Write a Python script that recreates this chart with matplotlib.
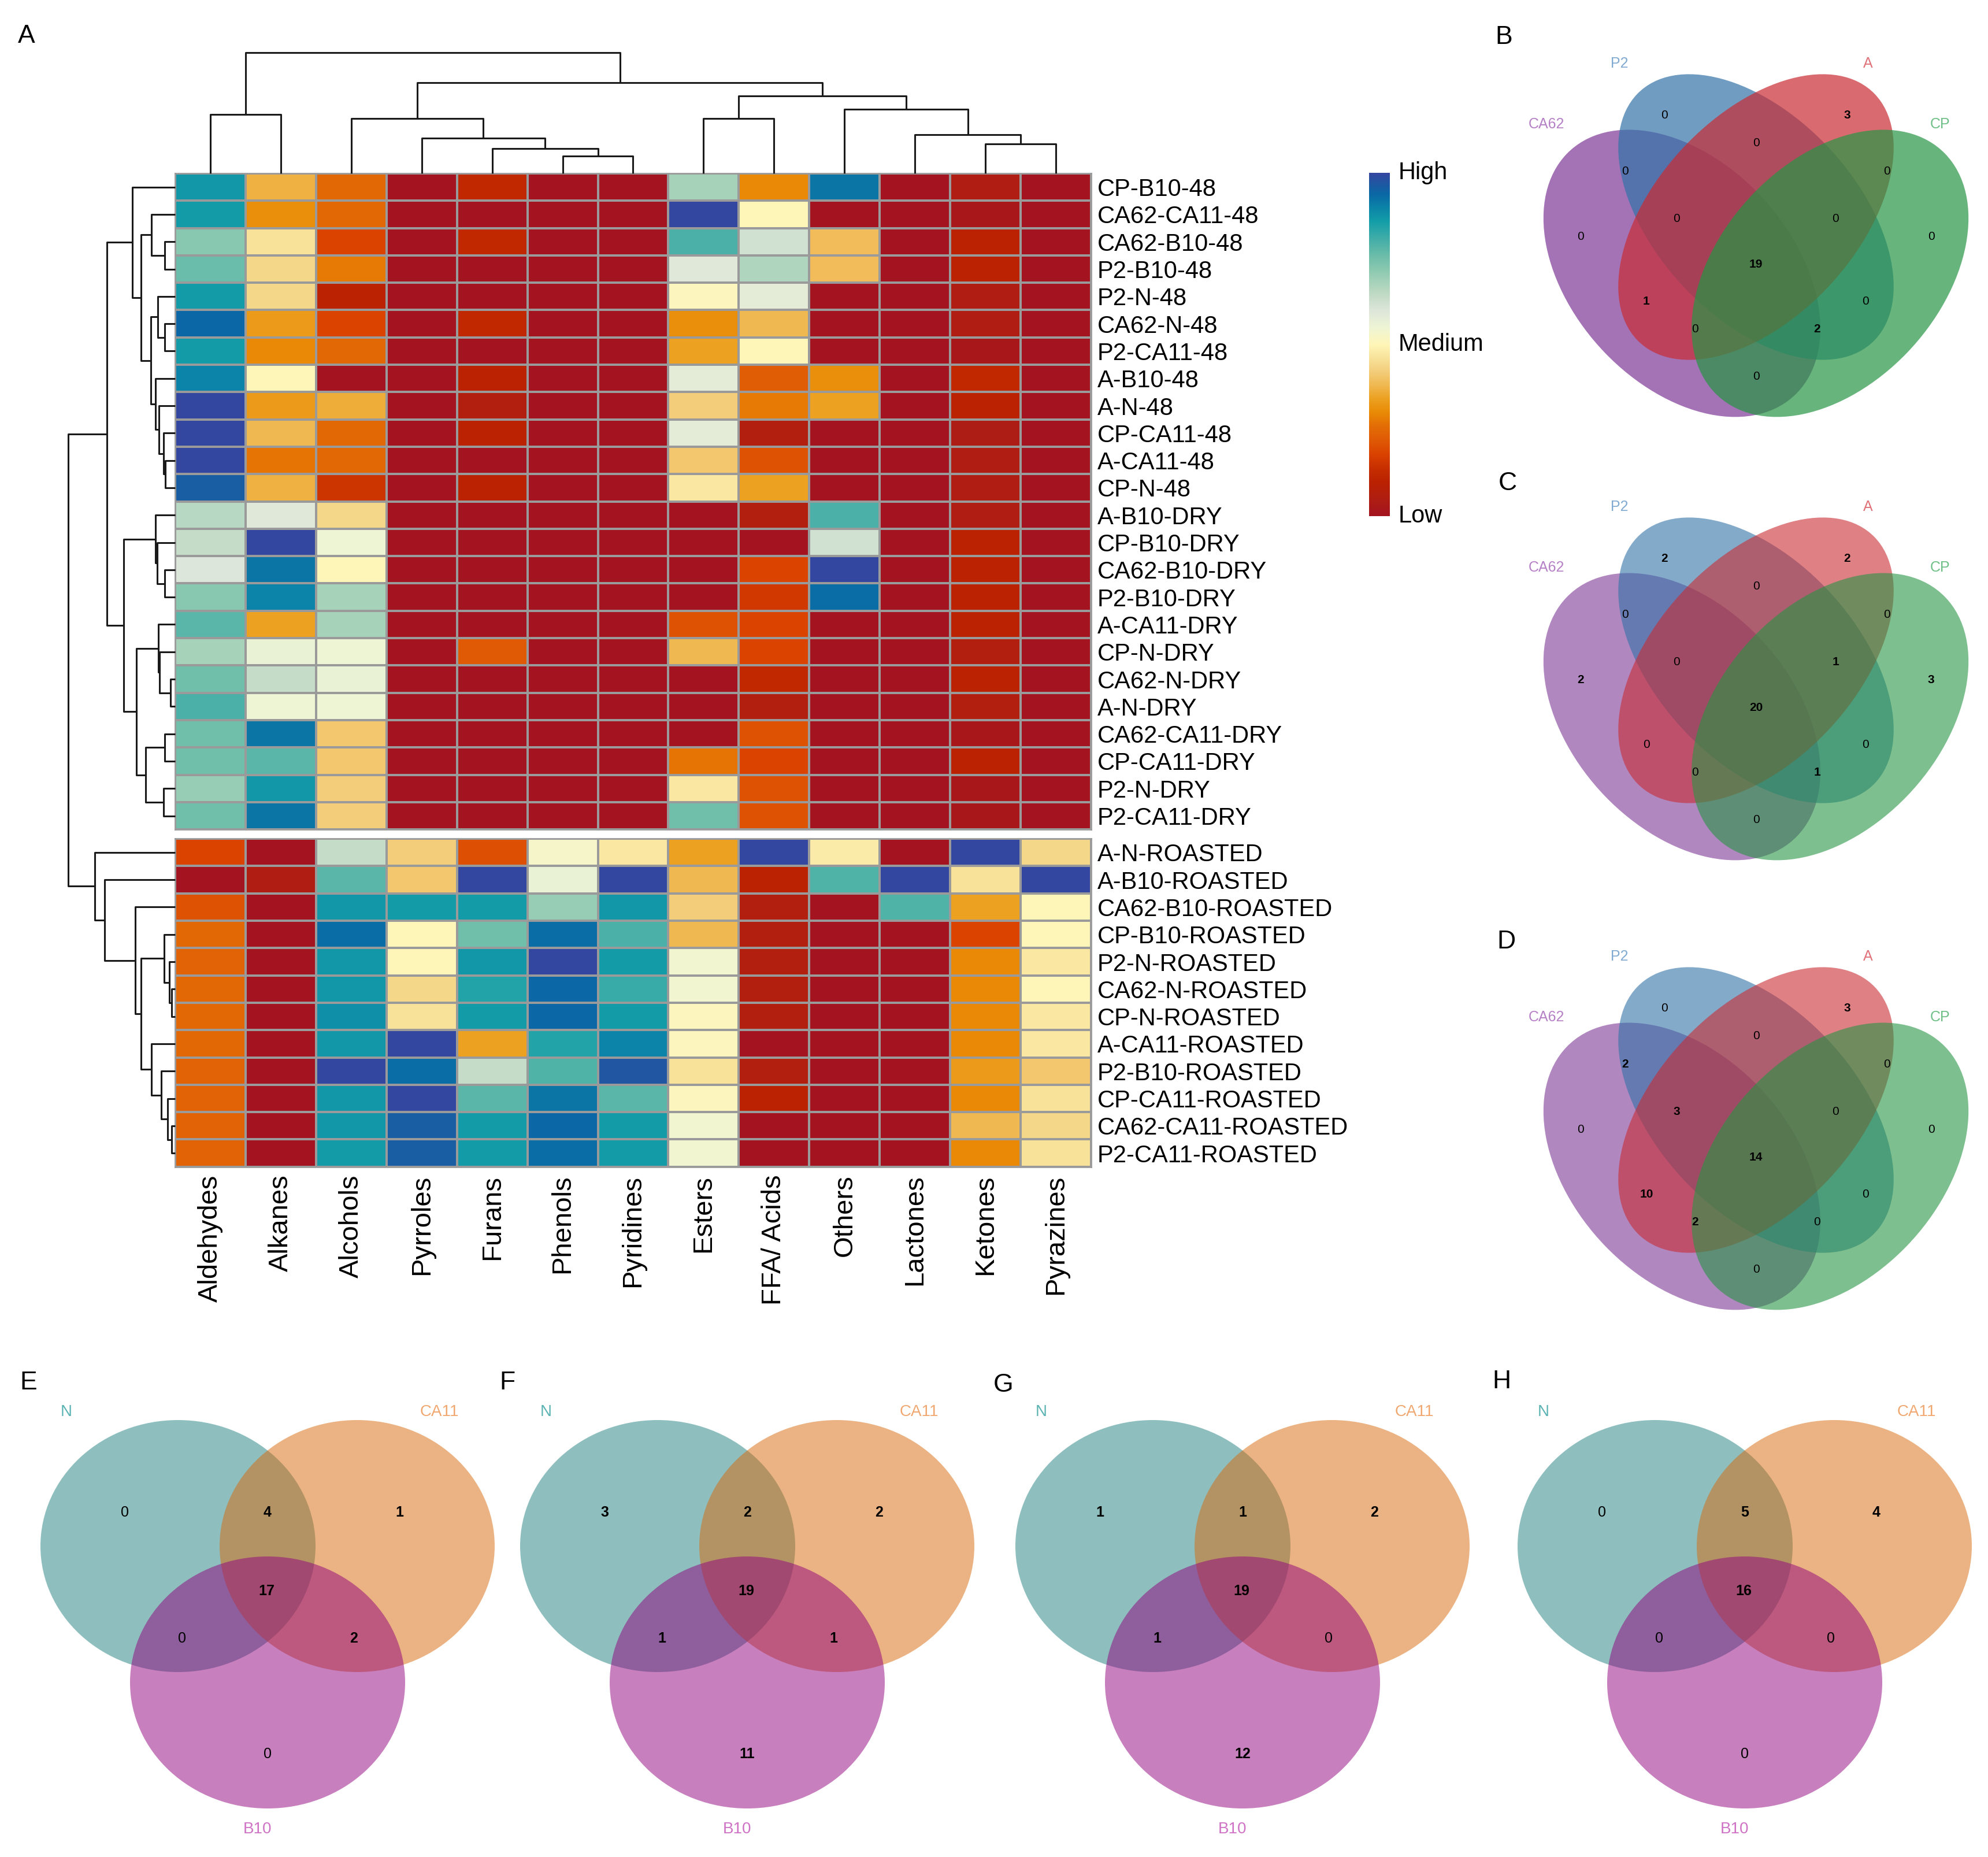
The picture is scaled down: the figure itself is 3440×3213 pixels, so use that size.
import numpy as np
import matplotlib
matplotlib.use("Agg")
import matplotlib.pyplot as plt
from matplotlib.colors import LinearSegmentedColormap
from matplotlib.patches import Ellipse

plt.rcParams["font.family"] = ["Liberation Sans", "DejaVu Sans"]

W, H = 3441, 3213

# ---- heatmap data (0 = Low, 0.5 = Medium, 1 = High) ----
compounds = ["Aldehydes", "Alkanes", "Alcohols", "Pyrroles", "Furans", "Phenols",
             "Pyridines", "Esters", "FFA/ Acids", "Others", "Lactones", "Ketones", "Pyrazines"]

samples_48 = ["CP-B10-48", "CA62-CA11-48", "CA62-B10-48", "P2-B10-48", "P2-N-48", "CA62-N-48",
              "P2-CA11-48", "A-B10-48", "A-N-48", "CP-CA11-48", "A-CA11-48", "CP-N-48"]
samples_dry = ["A-B10-DRY", "CP-B10-DRY", "CA62-B10-DRY", "P2-B10-DRY", "A-CA11-DRY", "CP-N-DRY",
               "CA62-N-DRY", "A-N-DRY", "CA62-CA11-DRY", "CP-CA11-DRY", "P2-N-DRY", "P2-CA11-DRY"]
samples_roasted = ["A-N-ROASTED", "A-B10-ROASTED", "CA62-B10-ROASTED", "CP-B10-ROASTED",
                   "P2-N-ROASTED", "CA62-N-ROASTED", "CP-N-ROASTED", "A-CA11-ROASTED",
                   "P2-B10-ROASTED", "CP-CA11-ROASTED", "CA62-CA11-ROASTED", "P2-CA11-ROASTED"]

scores_48 = [
    [0.87, 0.37, 0.25, 0, 0.12, 0, 0, 0.68, 0.30, 0.92, 0, 0.05, 0],
    [0.86, 0.31, 0.25, 0, 0, 0, 0, 1.00, 0.50, 0, 0, 0.02, 0],
    [0.72, 0.46, 0.18, 0, 0.12, 0, 0, 0.80, 0.62, 0.39, 0, 0.10, 0],
    [0.76, 0.44, 0.28, 0, 0, 0, 0, 0.59, 0.67, 0.39, 0, 0.10, 0],
    [0.86, 0.44, 0.10, 0, 0, 0, 0, 0.51, 0.58, 0, 0, 0.05, 0],
    [0.94, 0.33, 0.18, 0, 0.12, 0, 0, 0.31, 0.38, 0, 0, 0.05, 0],
    [0.86, 0.30, 0.25, 0, 0, 0, 0, 0.34, 0.50, 0, 0, 0.02, 0],
    [0.90, 0.50, 0, 0, 0.10, 0, 0, 0.58, 0.23, 0.31, 0, 0.12, 0],
    [1.00, 0.33, 0.36, 0, 0.06, 0, 0, 0.42, 0.28, 0.34, 0, 0.10, 0],
    [1.00, 0.38, 0.25, 0, 0.10, 0, 0, 0.58, 0.06, 0, 0, 0.04, 0],
    [1.00, 0.27, 0.25, 0, 0, 0, 0, 0.41, 0.21, 0, 0, 0.05, 0],
    [0.96, 0.37, 0.15, 0, 0.10, 0, 0, 0.47, 0.34, 0, 0, 0.05, 0],
]
scores_dry = [
    [0.66, 0.59, 0.44, 0, 0, 0, 0, 0, 0.06, 0.80, 0, 0.05, 0],
    [0.64, 1.00, 0.55, 0, 0, 0, 0, 0, 0, 0.62, 0, 0.10, 0],
    [0.60, 0.92, 0.50, 0, 0, 0, 0, 0, 0.18, 1.00, 0, 0.10, 0],
    [0.72, 0.90, 0.68, 0, 0, 0, 0, 0, 0.16, 0.93, 0, 0.10, 0],
    [0.78, 0.34, 0.68, 0, 0, 0, 0, 0.21, 0.18, 0, 0, 0.10, 0],
    [0.68, 0.56, 0.55, 0, 0.22, 0, 0, 0.38, 0.18, 0, 0, 0.06, 0],
    [0.75, 0.64, 0.56, 0, 0, 0, 0, 0, 0.12, 0, 0, 0.10, 0],
    [0.80, 0.55, 0.55, 0, 0, 0, 0, 0, 0.06, 0, 0, 0.06, 0],
    [0.75, 0.92, 0.41, 0, 0, 0, 0, 0, 0.21, 0, 0, 0.02, 0],
    [0.75, 0.78, 0.41, 0, 0, 0, 0, 0.27, 0.18, 0, 0, 0.10, 0],
    [0.70, 0.87, 0.42, 0, 0, 0, 0, 0.47, 0.21, 0, 0, 0.02, 0],
    [0.75, 0.92, 0.42, 0, 0, 0, 0, 0.75, 0.21, 0, 0, 0.02, 0],
]
scores_roasted = [
    [0.18, 0, 0.64, 0.42, 0.20, 0.53, 0.47, 0.34, 1.00, 0.48, 0, 1.00, 0.44],
    [0, 0.05, 0.78, 0.41, 1.00, 0.56, 1.00, 0.38, 0.10, 0.79, 1.00, 0.46, 1.00],
    [0.21, 0, 0.87, 0.86, 0.86, 0.70, 0.87, 0.42, 0.06, 0, 0.79, 0.34, 0.50],
    [0.25, 0, 0.93, 0.50, 0.75, 0.93, 0.80, 0.38, 0.06, 0, 0, 0.18, 0.50],
    [0.24, 0, 0.87, 0.50, 0.87, 1.00, 0.86, 0.54, 0.06, 0, 0, 0.30, 0.47],
    [0.25, 0, 0.87, 0.44, 0.84, 0.94, 0.82, 0.54, 0.06, 0, 0, 0.30, 0.50],
    [0.25, 0, 0.88, 0.46, 0.86, 0.94, 0.86, 0.51, 0.06, 0, 0, 0.30, 0.47],
    [0.25, 0, 0.87, 1.00, 0.34, 0.84, 0.90, 0.51, 0, 0, 0, 0.30, 0.47],
    [0.24, 0, 1.00, 0.93, 0.64, 0.79, 0.97, 0.46, 0.06, 0, 0, 0.33, 0.41],
    [0.24, 0, 0.87, 1.00, 0.78, 0.92, 0.78, 0.51, 0.10, 0, 0, 0.30, 0.46],
    [0.24, 0, 0.87, 0.96, 0.86, 0.94, 0.86, 0.54, 0, 0, 0, 0.38, 0.44],
    [0.24, 0, 0.86, 0.96, 0.86, 0.93, 0.86, 0.54, 0, 0, 0, 0.30, 0.46],
]

# dendrograms: (merge height, left, right), leaves are column / row indices
col_tree = (209, (102, 0, 1),
            (157, (95, 2, (61, 3, (43, 4, (30, 5, 6)))),
             (134, (95, 7, 8), (111, 9, (67, 10, (51, 11, 12))))))

tree_48 = (73.7, 0, (59.4, (40.5, 1, (17.7, 2, 3)),
                     (41.5, (30, 4, (17.7, 5, 6)), (34.4, 7, (28.4, 8, (20, 9, (16.7, 10, 11)))))))
tree_dry = (89.4, (34.4, 12, (31, 13, (17.7, 14, 15))),
            (66.7, (29.4, 16, (26.7, 17, (7.7, 18, 19))), (51, (17.7, 20, 21), (20, 22, 23))))
tree_roasted = (138.5, 24, (121.7, 25, (69, 26, (58.6, (19.3, 27, (9.5, 28, (6, 29, 30))),
                                                (41, 31, (23.5, 32, (13, 33, (6, 34, 35))))))))
row_tree = (185, (117.7, tree_48, tree_dry), tree_roasted)

# ---- venn data ----
venn4_sets = ["CA62", "P2", "A", "CP"]
venn4_regions = ["P2", "A", "P2&A", "CA62&P2", "A&CP", "CA62&P2&A", "P2&A&CP", "CA62", "CP",
                 "all", "CA62&A", "P2&CP", "CA62&A&CP", "CA62&P2&CP", "CA62&CP"]
venn_B = [0, 3, 0, 0, 0, 0, 0, 0, 0, 19, 1, 0, 0, 2, 0]
venn_C = [2, 2, 0, 0, 0, 0, 1, 2, 3, 20, 0, 0, 0, 1, 0]
venn_D = [0, 3, 0, 2, 0, 3, 0, 0, 0, 14, 10, 0, 2, 0, 0]

venn3_sets = ["N", "CA11", "B10"]
venn3_regions = ["N", "N&CA11", "CA11", "all", "N&B10", "CA11&B10", "B10"]
venn_E = [0, 4, 1, 17, 0, 2, 0]
venn_F = [3, 2, 2, 19, 1, 1, 11]
venn_G = [1, 1, 2, 19, 1, 0, 12]
venn_H = [0, 5, 4, 16, 0, 0, 0]

# ---- style ----
cmap = LinearSegmentedColormap.from_list("hm", [
    (0.00, "#a31420"), (0.05, "#b01e12"), (0.10, "#bb2200"), (0.14, "#c83000"),
    (0.18, "#da4300"), (0.22, "#e05a05"), (0.26, "#e36c05"), (0.30, "#e98a05"),
    (0.34, "#eca020"), (0.38, "#f0b850"), (0.42, "#f3cd7a"), (0.46, "#f8e29a"),
    (0.50, "#fff6b8"), (0.55, "#eef5d5"), (0.60, "#dde6da"), (0.64, "#c5dcc8"),
    (0.68, "#a8d3bb"), (0.72, "#8ac8b0"), (0.76, "#6bbdaa"), (0.80, "#4ab0a8"),
    (0.86, "#139ea8"), (0.90, "#0c84a8"), (0.94, "#0a68a5"), (1.00, "#3447a0")])

fig = plt.figure(figsize=(W / 100, H / 100), dpi=100)


def px_axes(x0, y0, x1, y1):
    return fig.add_axes([x0 / W, 1 - y1 / H, (x1 - x0) / W, (y1 - y0) / H])


def px_text(x, y, s, **kw):
    fig.text(x / W, 1 - y / H, s, **kw)


def draw_tree(ax, node, pos, vertical):
    if isinstance(node, int):
        return pos(node), 0.0
    h, left, right = node
    p1, h1 = draw_tree(ax, left, pos, vertical)
    p2, h2 = draw_tree(ax, right, pos, vertical)
    a, b = [p1, p1, p2, p2], [h1, h, h, h2]
    if vertical:
        ax.plot(a, b, color="#1a1a1a", lw=2.2, solid_capstyle="butt", clip_on=False)
    else:
        ax.plot(b, a, color="#1a1a1a", lw=2.2, solid_capstyle="butt", clip_on=False)
    return (p1 + p2) / 2, h


# ---- heatmap ----
HM_X0, HM_X1, TOP, ROW_H, GAP = 303, 1888, 300, 47.3, 16
n_up = len(samples_48) + len(samples_dry)
blocks = [(np.array(scores_48 + scores_dry), samples_48 + samples_dry, TOP),
          (np.array(scores_roasted), samples_roasted, TOP + n_up * ROW_H + GAP)]
for k, (vals, names, y0) in enumerate(blocks):
    ax = px_axes(HM_X0, y0, HM_X1, y0 + len(names) * ROW_H)
    ax.pcolormesh(vals, cmap=cmap, vmin=0, vmax=1, edgecolors="#9a9a9a", linewidth=1.6)
    ax.set_xlim(0, len(compounds))
    ax.set_ylim(len(names), 0)
    ax.yaxis.tick_right()
    ax.set_yticks(np.arange(len(names)) + 0.5)
    ax.set_yticklabels(names, fontsize=30)
    ax.tick_params(axis="y", length=0, pad=8)
    if k == 1:
        ax.set_xticks(np.arange(len(compounds)) + 0.5)
        ax.set_xticklabels(compounds, rotation=90, fontsize=34, va="top")
        ax.tick_params(axis="x", length=0, pad=10)
    else:
        ax.set_xticks([])
    for s in ax.spines.values():
        s.set_color("#9a9a9a")
        s.set_linewidth(2)

# column dendrogram
ax = px_axes(HM_X0, 85, HM_X1, TOP)
draw_tree(ax, col_tree, lambda i: i + 0.5, True)
ax.set_xlim(0, len(compounds))
ax.set_ylim(0, 215)
ax.axis("off")

# row dendrogram
total_h = (n_up + len(samples_roasted)) * ROW_H + GAP
ax = px_axes(HM_X0 - 193, TOP, HM_X0, TOP + total_h)
draw_tree(ax, row_tree, lambda i: (i + 0.5) * ROW_H + (GAP if i >= n_up else 0), False)
ax.set_xlim(193, 0)
ax.set_ylim(total_h, 0)
ax.axis("off")

# colour key
ax = px_axes(2369, 299, 2405, 893)
ax.imshow(np.linspace(1, 0, 256)[:, None], aspect="auto", cmap=cmap, vmin=0, vmax=1)
ax.axis("off")
for lab, yy in [("High", 299), ("Medium", 596), ("Low", 893)]:
    px_text(2420, yy, lab, fontsize=30, ha="left", va="center")

# ---- 4-set venns ----
ell4 = [((0.35, 0.45), 0.33, 0.22, 135), ((0.5, 0.56), 0.34, 0.20, 135),
        ((0.5, 0.56), 0.34, 0.20, 45), ((0.65, 0.45), 0.33, 0.22, 45)]
fill4 = ["#7e3897", "#3372a8", "#c92c33", "#279545"]
lab4_col = ["#b680c6", "#80aad2", "#e07178", "#6dbf85"]
lab4_pos = [(0.075, 0.741), (0.223, 0.860), (0.727, 0.860), (0.873, 0.741)]
num4_pos = [(0.315, 0.759), (0.685, 0.759), (0.5, 0.704), (0.235, 0.649), (0.765, 0.649),
            (0.339, 0.557), (0.661, 0.557), (0.145, 0.522), (0.855, 0.522), (0.5, 0.467),
            (0.278, 0.395), (0.722, 0.395), (0.376, 0.341), (0.624, 0.341), (0.5, 0.249)]


def venn4(shift, counts, alpha):
    ax = px_axes(2637, 30 + shift, 3440, 783 + shift)
    for (c, a, b, rot), col in zip(ell4, fill4):
        ax.add_patch(Ellipse(c, 2 * a, 2 * b, angle=rot, facecolor=col, alpha=alpha, lw=0))
    for name, (x, y), col in zip(venn4_sets, lab4_pos, lab4_col):
        ax.text(x, y, name, color=col, fontsize=18, ha="center", va="center")
    for v, (x, y) in zip(counts, num4_pos):
        ax.text(x, y, str(v), fontsize=15, ha="center", va="center",
                fontweight="bold" if v else "normal")
    ax.set_xlim(0.03, 0.97)
    ax.set_ylim(0.1, 0.95)
    ax.axis("off")


venn4(0, venn_B, 0.7)
venn4(767, venn_C, 0.6)
venn4(1545, venn_D, 0.6)

# ---- 3-set venns ----
ell3 = [(0, 0), (310, 0), (155, 236)]
fill3 = ["#1f7f7f", "#d96909", "#91007d"]
lab3_col = ["#5cb3b3", "#f0a870", "#cf72c5"]
lab3_pos = [(-193, -232), (452, -232), (138, 490)]
num3_pos = [(-92, -58), (155, -58), (383, -58), (153, 78), (7, 160), (304, 160), (155, 360)]


def venn3(cx, cy, counts):
    ax = px_axes(cx - 300, cy - 290, cx + 560, cy + 520)
    for c, col in zip(ell3, fill3):
        ax.add_patch(Ellipse(c, 476, 436, facecolor=col, alpha=0.5, lw=0))
    for name, (x, y), col in zip(venn3_sets, lab3_pos, lab3_col):
        ax.text(x, y, name, color=col, fontsize=20, ha="center", va="center")
    for v, (x, y) in zip(counts, num3_pos):
        ax.text(x, y, str(v), fontsize=18, ha="center", va="center",
                fontweight="bold" if v else "normal")
    ax.set_xlim(-300, 560)
    ax.set_ylim(520, -290)
    ax.axis("off")


for cx, counts in zip([308, 1138, 1995, 2864], [venn_E, venn_F, venn_G, venn_H]):
    venn3(cx, 2675, counts)

# panel letters
for lab, x, y in [("A", 46, 63), ("B", 2602, 65), ("C", 2609, 836), ("D", 2606, 1629),
                  ("E", 49, 2393), ("F", 878, 2393), ("G", 1736, 2396), ("H", 2598, 2390)]:
    px_text(x, y, lab, fontsize=32, ha="center", va="center")

fig.savefig("out.png", dpi=100, facecolor="white")
